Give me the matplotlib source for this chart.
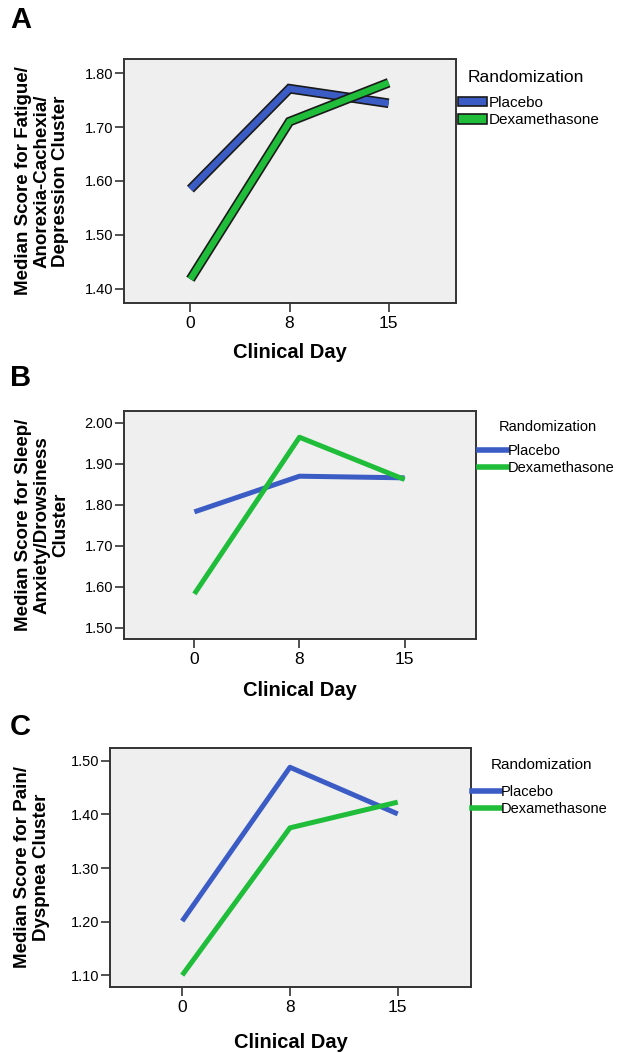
import matplotlib
matplotlib.use("Agg")
import matplotlib.pyplot as plt
import matplotlib.patheffects as pe
from matplotlib.patches import Patch
from matplotlib.lines import Line2D

plt.rcParams['font.family'] = ['Liberation Sans', 'DejaVu Sans']

# data
days = ['0', '8', '15']
placebo_a = [1.585, 1.771, 1.744]
dexa_a = [1.418, 1.710, 1.782]
placebo_b = [1.783, 1.870, 1.866]
dexa_b = [1.583, 1.965, 1.862]
placebo_c = [1.201, 1.488, 1.401]
dexa_c = [1.100, 1.375, 1.423]

yticks_a = [1.40, 1.50, 1.60, 1.70, 1.80]
yticks_b = [1.50, 1.60, 1.70, 1.80, 1.90, 2.00]
yticks_c = [1.10, 1.20, 1.30, 1.40, 1.50]

ylabel_a = "Median Score for Fatigue/\nAnorexia-Cachexia/\nDepression Cluster"
ylabel_b = "Median Score for Sleep/\nAnxiety/Drowsiness\nCluster"
ylabel_c = "Median Score for Pain/\nDyspnea Cluster"

BLUE = "#3a5cc4"
GREEN = "#1fbd3a"
W, H = 620, 1053

fig = plt.figure(figsize=(W / 100, H / 100), dpi=100)


def box(l, t, r, b):
    return [l / W, 1 - b / H, (r - l) / W, (b - t) / H]


def fx(x):
    return x / W


def fy(y):
    return 1 - y / H


def panel(letter, rect, ylim, yticks, placebo, dexa, ylabel, ylab_x, xlab_y,
          letter_y, leg, outlined):
    l, t, r, b = rect
    ax = fig.add_axes(box(l, t, r, b))
    ax.set_facecolor("#efefef")
    x = list(range(len(days)))
    if outlined:
        fx_ = [pe.Stroke(linewidth=7, foreground="#1a1a1a"), pe.Normal()]
        ax.plot(x, placebo, color=BLUE, lw=4.6, solid_capstyle='butt',
                solid_joinstyle='miter', path_effects=fx_)
        ax.plot(x, dexa, color=GREEN, lw=4.6, solid_capstyle='butt',
                solid_joinstyle='miter', path_effects=fx_)
    else:
        ax.plot(x, placebo, color=BLUE, lw=3.6, solid_capstyle='butt')
        ax.plot(x, dexa, color=GREEN, lw=3.6, solid_capstyle='butt')
    ax.set_xlim(-0.67, 2.68)
    ax.set_ylim(*ylim)
    ax.set_xticks(x)
    ax.set_xticklabels(days)
    ax.set_yticks(yticks)
    ax.set_yticklabels([f"{v:.2f}" for v in yticks])
    ax.tick_params(axis='both', length=6.5, width=1.2, color="#333333",
                   direction='out')
    ax.tick_params(axis='x', pad=3, labelsize=12.5)
    ax.tick_params(axis='y', pad=1.5, labelsize=10.5)
    for s in ax.spines.values():
        s.set_linewidth(1.4)
        s.set_color("#333333")

    fig.text(fx(ylab_x), fy((t + b) / 2), ylabel, rotation=90, ha='center',
             va='center', fontsize=13.5, fontweight='bold',
             multialignment='center', linespacing=1.15)
    fig.text(fx((l + r) / 2), fy(xlab_y), "Clinical Day", ha='center',
             va='center', fontsize=14.5, fontweight='bold')
    fig.text(fx(10), fy(letter_y), letter, ha='left', va='center',
             fontsize=21, fontweight='bold')

    hx, title_x, title_y, title_fs, entry_y, entry_fs = leg
    fig.text(fx(title_x), fy(title_y), "Randomization", ha='left',
             va='center', fontsize=title_fs)
    if outlined:
        handles = [Patch(facecolor=BLUE, edgecolor="#1a1a1a", lw=1.2),
                   Patch(facecolor=GREEN, edgecolor="#1a1a1a", lw=1.2)]
    else:
        handles = [Line2D([], [], color=BLUE, lw=4),
                   Line2D([], [], color=GREEN, lw=4)]
    fig.legend(handles, ["Placebo", "Dexamethasone"], loc='upper left',
               bbox_to_anchor=(fx(hx), fy(entry_y)), frameon=False,
               fontsize=entry_fs, handlelength=1.9, handleheight=0.6,
               handletextpad=0.1, labelspacing=0.2, borderaxespad=0,
               borderpad=0)
    return ax


panel("A", (124, 59, 456, 303), (1.374, 1.826), yticks_a, placebo_a, dexa_a,
      ylabel_a, 42, 352, 20, (458, 468, 77, 12.5, 96, 11), True)
panel("B", (124, 411, 476, 639), (1.473, 2.029), yticks_b, placebo_b, dexa_b,
      ylabel_b, 42, 690, 378, (479, 499, 427, 10.5, 444, 10.5), False)
panel("C", (110, 748, 471, 987), (1.078, 1.524), yticks_c, placebo_c, dexa_c,
      ylabel_c, 32, 1042, 727, (472, 491, 765, 11, 785, 10.5), False)

fig.savefig("out.png", dpi=100)
